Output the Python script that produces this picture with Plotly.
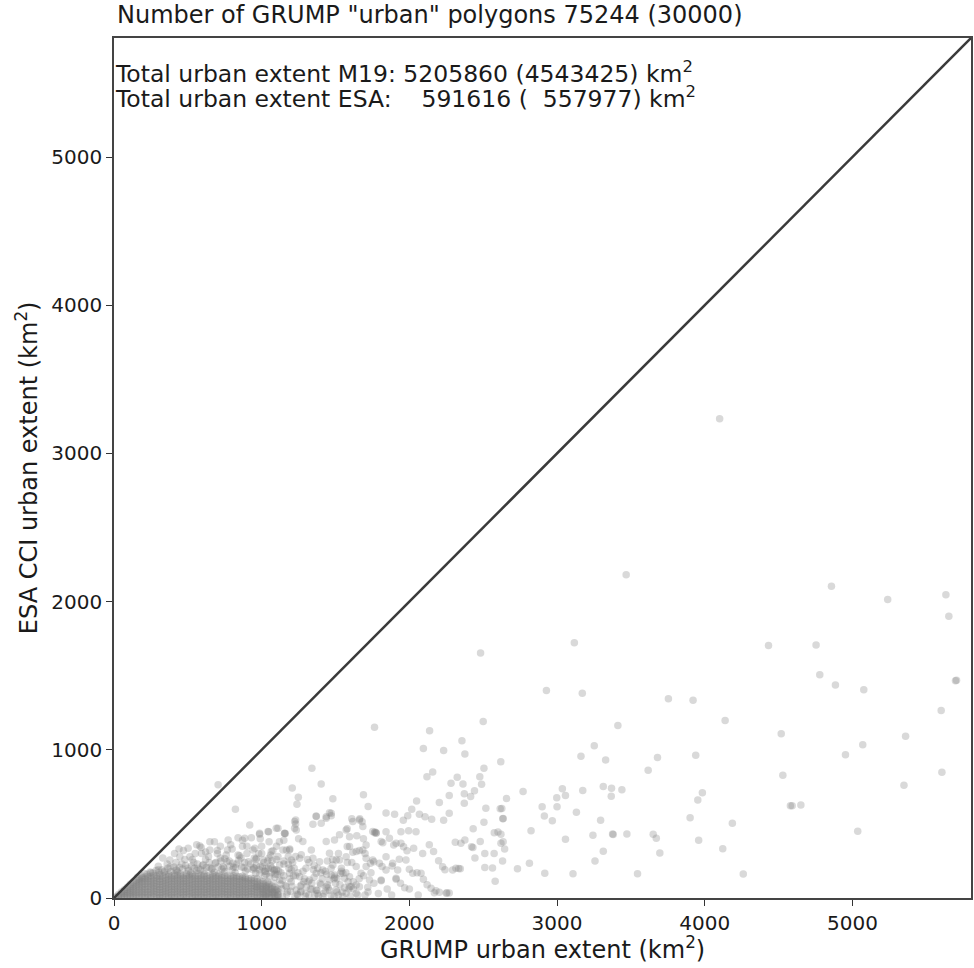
import plotly.graph_objects as go

# ---- data (km^2) ----
# sparse points, x > ~2250
outlier_x = [4101, 3468, 4858, 5239, 5633, 5653, 3117, 4432, 4754, 4779, 4885, 5077, 5698, 5705,
             2928, 3171, 3754, 3921, 4138, 3412, 4518, 5601, 5360, 5070, 4953, 3252, 3162, 3329,
             3680, 3939, 3617, 4529, 5606, 5349, 2619, 2658, 2770, 3036, 2998, 3057, 3174, 3313,
             3369, 3367, 3439, 3984, 3953, 2626, 2635, 2899, 3000, 2914, 2968, 3131, 3295, 4580,
             4592, 4651, 3901, 4187, 5036, 2824, 3057, 3243, 3376, 3380, 3473, 3651, 3672, 3959,
             4122, 3313, 3696, 3257, 2631, 2813, 2732, 2917, 3108, 3545, 4261,
             2482, 2500, 2356, 2376, 2505, 2324, 2282, 2477, 2363, 2489, 2270, 2372, 2415, 2441,
             2372, 2270, 2518, 2615, 2633, 2505, 2432, 2575, 2600, 2620, 2635, 2620, 2645, 2376,
             2349, 2480, 2421, 2430, 2444, 2511, 2574, 2334, 2345, 2511, 2563, 2581, 2270,
             2169, 2254, 5840, 5840]
outlier_y = [3234, 2182, 2104, 2014, 2047, 1901, 1723, 1703, 1707, 1507, 1437, 1405, 1466, 1470,
             1400, 1382, 1344, 1335, 1198, 1164, 1108, 1266, 1092, 1034, 966, 1027, 957, 932,
             948, 964, 862, 829, 849, 761, 919, 671, 718, 738, 677, 691, 725, 752,
             741, 687, 730, 711, 662, 604, 536, 615, 615, 554, 522, 579, 525, 622,
             622, 628, 541, 504, 450, 453, 396, 423, 432, 428, 432, 430, 403, 389,
             333, 315, 303, 250, 250, 234, 198, 167, 164, 164, 162,
             1653, 1191, 1061, 971, 876, 815, 774, 818, 770, 768, 691, 703, 685, 723,
             639, 572, 606, 603, 534, 511, 468, 440, 445, 430, 380, 370, 330, 392,
             369, 382, 345, 340, 270, 300, 300, 199, 198, 205, 203, 113, 34,
             36, 36, 2400, 1020]

# medium-density region, x ~ 1000-2350
mid_x = [1764, 2137, 2095, 2232, 1340, 1403, 2119, 2158, 1207, 1248, 1239, 1482, 1689, 1721,
         2203, 2049, 2016, 1842, 1900, 2068, 2106, 2151, 1989, 1959, 2232, 1610, 1664, 1680,
         1369, 1437, 1459, 1471, 1230, 1230, 1223, 1347, 1160, 1579, 1644, 1689, 1775, 1820,
         1842, 1943, 1995, 2045, 1894, 1943, 1961, 1984, 2029, 2090, 2135, 2164, 2198, 2225,
         2241, 2293, 2311, 1764, 1768,
         1579, 1617, 1662, 1707, 1736, 1759, 1815, 1842, 1883, 1921, 1932, 1977, 2000, 2023,
         2052, 2079, 2095, 1809, 1910, 1968, 2147, 2180, 2203, 2250, 2315, 1606, 1640, 1718,
         1534, 1561, 1673, 1471, 1414, 1505, 1459,
         986, 1043, 1110, 1155, 1223, 1234, 1369, 1403, 1437, 1471, 1279, 1336, 1268, 1189,
         1144, 1065, 953, 964, 1009, 1122, 1201, 1257, 1347, 1392, 1437, 1493, 1527, 1572,
         1595, 1617, 1662, 1685, 1752, 1775, 1809, 1865, 1910, 1595, 1640, 1685, 1707, 1572,
         1527, 1482, 1493, 1550, 1595, 1640, 1707, 1752, 1797, 1842, 1887, 1910, 1809, 1730,
         1662, 1595, 1459, 1369, 1324, 1257, 1189, 1122, 1054, 986, 964, 1032, 1099, 1167,
         1234, 1302, 1369, 1437, 1505, 1572, 1640,
         1010, 1040, 1060, 1085, 1110, 1130, 1150, 1175, 1200, 1220, 1245, 1260, 1280, 1300,
         1320, 1340, 1360, 1380, 1400, 1420, 1440, 1460, 1480, 1500, 1520, 1540, 1560, 1580,
         1620, 1650, 1690, 1720, 1760, 1790, 1850, 1880, 1940, 2000, 2060, 2120, 1030, 1070,
         1110, 1180, 1290, 1350, 1410, 1470, 1520, 1610, 1700,
         1025, 1075, 1140, 1195, 1240, 1295, 1330, 1385, 1430, 1490, 1545, 1600, 1160, 1265,
         1315, 1445, 1090, 1215, 1375, 1510,
         1005, 1020, 1045, 1060, 1080, 1095, 1115, 1135, 1150, 1170, 1190, 1205, 1225, 1245,
         1265, 1285, 1300, 1320, 1340, 1355, 1375, 1395, 1415, 1430, 1450, 1470, 1490, 1510,
         1530, 1550, 1570, 1590, 1015, 1050, 1100, 1140, 1185, 1230, 1270, 1310, 1355, 1400,
         1445, 1495, 1540, 1585, 1620, 1660, 1700, 1740]
mid_y = [1153, 1128, 1009, 995, 876, 770, 818, 851, 743, 680, 632, 669, 696, 617,
         644, 655, 599, 574, 565, 565, 549, 531, 555, 524, 524, 534, 535, 514,
         554, 549, 576, 555, 527, 500, 471, 498, 436, 468, 420, 400, 441, 372,
         447, 447, 453, 447, 358, 369, 346, 318, 335, 301, 359, 313, 252, 211,
         191, 189, 376, 441, 445,
         347, 309, 320, 268, 234, 245, 212, 189, 216, 189, 261, 257, 194, 167,
         171, 167, 126, 117, 126, 70, 65, 49, 38, 32, 200, 77, 88, 72,
         167, 133, 167, 155, 189, 257, 302,
         437, 448, 471, 437, 516, 459, 550, 505, 538, 572, 381, 324, 291, 324,
         324, 313, 336, 268, 257, 223, 257, 268, 268, 245, 381, 392, 426, 459,
         414, 516, 527, 482, 448, 437, 381, 403, 369, 347, 313, 324, 358, 279,
         257, 223, 155, 167, 144, 212, 212, 257, 234, 279, 234, 133, 122, 122,
         76, 76, 122, 167, 122, 144, 167, 122, 144, 167, 76, 76, 54, 76,
         54, 76, 54, 76, 54, 32, 32,
         30, 110, 60, 190, 20, 95, 150, 40, 110, 200, 20, 80, 180, 30,
         240, 100, 20, 200, 90, 30, 160, 50, 260, 100, 20, 200, 70, 240,
         110, 20, 150, 40, 100, 30, 60, 20, 100, 60, 20, 90, 200, 250,
         280, 230, 130, 190, 130, 200, 300, 240, 300,
         15, 35, 10, 45, 25, 12, 60, 15, 48, 10, 40, 12, 85, 40,
         110, 90, 140, 150, 50, 130,
         60, 150, 30, 220, 100, 15, 180, 60, 250, 25, 130, 80, 10, 170,
         45, 110, 200, 20, 60, 140, 30, 100, 10, 180, 70, 20, 130, 40,
         90, 10, 170, 60, 240, 270, 190, 120, 200, 280, 90, 260, 220, 170,
         250, 140, 180, 110, 60, 130, 20, 170]

# lighter layer just above the dense cluster
light_x = [705, 822, 919, 986, 1047, 1099, 1155, 773, 840, 885, 930, 649, 581, 502, 592, 649,
           768, 840, 941, 1076, 1167, 378, 446, 514,
           250, 300, 340, 380, 420, 460, 500, 540, 560, 600, 620, 660, 690, 720, 740, 780,
           800, 830, 860, 880, 910, 940, 960, 990, 1020, 1040, 1070, 1100, 1130, 1150, 1180,
           1200, 700, 760, 900, 1000, 1120, 550, 620, 480, 420, 360, 300, 1060, 980, 870, 720,
           1190, 1210, 1230, 1250,
           430, 520, 610, 680, 750, 820, 890, 960, 1030, 570, 650, 730, 810, 950, 1090,
           160, 185, 205, 225, 245, 265, 285, 305, 325, 345, 365, 385, 405, 425, 445, 465,
           485, 505, 525, 545, 565, 585, 605, 625, 645, 665, 685, 705, 725, 745, 765, 785,
           805, 825, 845, 865, 885, 905, 925, 945, 965, 985, 1005, 1025, 1045, 1065, 1085, 1105,
           330, 410, 470, 530, 590, 640, 700, 750, 800, 850, 900, 950, 1000, 1050, 1100, 1150,
           440, 560, 680, 790, 870, 990]
light_y = [764, 599, 493, 430, 447, 470, 436, 392, 407, 403, 407, 380, 351, 335, 301, 324,
           324, 290, 324, 318, 324, 257, 279, 279,
           170, 190, 175, 210, 190, 230, 200, 240, 185, 220, 260, 195, 240, 270, 210, 250,
           190, 230, 270, 205, 245, 190, 260, 215, 180, 250, 200, 260, 170, 230, 280,
           190, 300, 290, 300, 350, 380, 300, 310, 260, 240, 230, 215, 290, 300, 350, 350,
           330, 240, 150, 400,
           175, 168, 180, 172, 178, 170, 182, 168, 160, 200, 205, 195, 210, 200, 160,
           140, 150, 165, 160, 175, 168, 185, 172, 190, 182, 200, 178, 210, 188, 205, 195,
           220, 185, 215, 200, 230, 190, 225, 205, 240, 198, 235, 210, 250, 200, 245, 215,
           235, 205, 255, 210, 240, 195, 230, 205, 220, 190, 210, 180, 200, 170, 185, 160,
           270, 300, 320, 260, 340, 280, 320, 265, 330, 285, 350, 270, 300, 380, 350, 390,
           330, 360, 380, 360, 390, 400]

# dense, saturated cluster near the origin: column positions and values in each column
dense_col_x = [10, 30, 50, 70, 90, 110, 130, 150, 170, 190, 210, 230, 250, 270, 290, 310,
               330, 350, 370, 390, 410, 430, 450, 470, 490, 510, 530, 550, 570, 590, 610, 630,
               650, 670, 690, 710, 730, 750, 770, 790, 810, 830, 850, 870, 890, 910, 930, 950,
               970, 990, 1010, 1030, 1050, 1070, 1090, 1110]
dense_col_y = [
    [2, 7], [4, 14, 24], [3, 15, 28, 40], [5, 18, 32, 46, 56], [2, 16, 30, 44, 58, 72],
    [6, 20, 35, 50, 65, 80, 92], [3, 17, 33, 49, 64, 80, 96, 108],
    [8, 24, 40, 57, 74, 90, 106, 120], [4, 20, 37, 54, 71, 88, 104, 120, 130],
    [9, 26, 43, 60, 78, 95, 112, 128, 138], [3, 21, 39, 57, 75, 93, 111, 128, 142],
    [7, 25, 43, 61, 79, 97, 115, 132, 146], [2, 20, 38, 56, 74, 92, 110, 128, 146],
    [10, 28, 46, 64, 82, 100, 118, 136, 152], [5, 23, 41, 59, 77, 95, 113, 131, 149],
    [1, 19, 37, 55, 73, 91, 109, 127, 145, 158], [4, 22, 40, 58, 76, 94, 112, 130, 148],
    [10, 28, 46, 64, 82, 100, 118, 136, 155], [1, 19, 37, 55, 73, 91, 109, 127, 145, 160],
    [6, 24, 42, 60, 78, 96, 114, 132, 150], [3, 21, 39, 57, 75, 93, 111, 129, 147, 162],
    [9, 27, 45, 63, 81, 99, 117, 135, 153], [2, 20, 38, 56, 74, 92, 110, 128, 146, 160],
    [7, 25, 43, 61, 79, 97, 115, 133, 151], [4, 22, 40, 58, 76, 94, 112, 130, 148, 162],
    [10, 28, 46, 64, 82, 100, 118, 136, 154], [1, 19, 37, 55, 73, 91, 109, 127, 145, 160],
    [6, 24, 42, 60, 78, 96, 114, 132, 150], [3, 21, 39, 57, 75, 93, 111, 129, 147, 163],
    [8, 26, 44, 62, 80, 98, 116, 134, 152], [2, 20, 38, 56, 74, 92, 110, 128, 146, 160],
    [5, 23, 41, 59, 77, 95, 113, 131, 149], [9, 27, 45, 63, 81, 99, 117, 135, 153],
    [1, 19, 37, 55, 73, 91, 109, 127, 145, 160], [6, 24, 42, 60, 78, 96, 114, 132, 150],
    [3, 21, 39, 57, 75, 93, 111, 129, 147, 162], [10, 28, 46, 64, 82, 100, 118, 136, 154],
    [4, 22, 40, 58, 76, 94, 112, 130, 148], [7, 25, 43, 61, 79, 97, 115, 133, 151],
    [2, 20, 38, 56, 74, 92, 110, 128, 146], [9, 27, 45, 63, 81, 99, 117, 135, 150],
    [5, 23, 41, 59, 77, 95, 113, 131, 147], [1, 19, 37, 55, 73, 91, 109, 127, 143],
    [8, 26, 44, 62, 80, 98, 116, 134, 146], [3, 21, 39, 57, 75, 93, 111, 129, 140],
    [6, 24, 42, 60, 78, 96, 114, 130], [10, 28, 46, 64, 82, 100, 118, 134],
    [6, 24, 42, 60, 78, 96, 114, 132], [2, 20, 38, 56, 74, 92, 110, 128],
    [8, 26, 44, 62, 80, 98, 116], [4, 22, 40, 58, 76, 94, 112], [9, 27, 45, 63, 81, 99],
    [3, 21, 39, 57, 75, 93], [7, 25, 43, 61, 79], [2, 20, 38, 56, 74], [6, 24, 42, 60]]

diag = [0, 5803]
axis_range = [0, 5803]
tick_vals = [0, 1000, 2000, 3000, 4000, 5000]
tick_text = ["0", "1000", "2000", "3000", "4000", "5000"]

title_text = 'Number of GRUMP "urban" polygons 75244 (30000)'
line1_text = "Total urban extent M19: 5205860 (4543425) km<sup>2</sup>"
line2_text = ("Total urban extent ESA:\u00a0\u00a0\u00a0\u00a0591616 (\u00a0\u00a0557977) "
              "km<sup>2</sup>")
xlabel = "GRUMP urban extent (km<sup>2</sup>)"
ylabel = "ESA CCI urban extent (km<sup>2</sup>)"

# ---- assemble the single scatter series ----
dense_x, dense_y = [], []
for cx, ys in zip(dense_col_x, dense_col_y):
    for yv in ys:
        dense_x.append(cx)
        dense_y.append(yv)

all_x = dense_x + light_x + mid_x + outlier_x
all_y = dense_y + light_y + mid_y + outlier_y

FONT = "DejaVu Sans"
TXT = "#1a1a1a"
fig = go.Figure()
fig.add_trace(go.Scatter(
    x=all_x, y=all_y, mode="markers",
    marker=dict(color="#808080", size=7.5, opacity=0.3, line=dict(width=0)),
    showlegend=False, hoverinfo="skip"))
fig.add_trace(go.Scatter(
    x=diag, y=diag, mode="lines",
    line=dict(color="#3a3a3a", width=2.5), showlegend=False, hoverinfo="skip"))

axis_common = dict(
    range=axis_range, showgrid=False, zeroline=False,
    showline=True, linecolor="#444444", linewidth=1.5, mirror=True,
    ticks="outside", ticklen=6, tickwidth=1.3, tickcolor="#333333",
    tickvals=tick_vals, ticktext=tick_text,
    tickfont=dict(family=FONT, size=20, color=TXT))

fig.update_layout(
    width=974, height=968,
    margin=dict(l=114, r=1, t=38, b=70),
    paper_bgcolor="white", plot_bgcolor="white",
    xaxis=dict(axis_common),
    yaxis=dict(axis_common),
    font=dict(family=FONT, color=TXT),
)

PW, PH = 859.0, 860.0
def px_x(p):
    return (p - 114) / PW
def px_y(p):
    return (898 - p) / PH

fig.add_annotation(text=title_text, xref="paper", yref="paper", x=px_x(115), y=px_y(15),
                   xanchor="left", yanchor="middle", showarrow=False,
                   font=dict(family=FONT, size=24, color=TXT))
fig.add_annotation(text=line1_text, xref="paper", yref="paper", x=px_x(113), y=px_y(73),
                   xanchor="left", yanchor="middle", showarrow=False,
                   font=dict(family=FONT, size=23.5, color=TXT))
fig.add_annotation(text=line2_text, xref="paper", yref="paper", x=px_x(113), y=px_y(97.5),
                   xanchor="left", yanchor="middle", showarrow=False,
                   font=dict(family=FONT, size=23.5, color=TXT))
fig.add_annotation(text=xlabel, xref="paper", yref="paper", x=0.5, y=px_y(948),
                   xanchor="center", yanchor="middle", showarrow=False,
                   font=dict(family=FONT, size=24, color=TXT))
fig.add_annotation(text=ylabel, xref="paper", yref="paper", x=px_x(27), y=0.5,
                   xanchor="center", yanchor="middle", showarrow=False, textangle=-90,
                   font=dict(family=FONT, size=24, color=TXT))

fig.write_html("out.html",
               config={"displayModeBar": False},
               post_script="document.body.style.margin='0';"
                           "document.body.style.overflow='hidden';")
